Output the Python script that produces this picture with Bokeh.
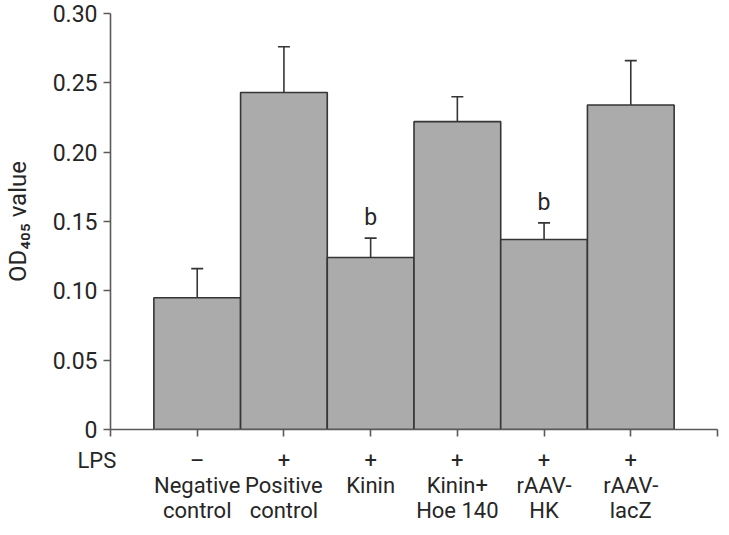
from bokeh.plotting import figure
from bokeh.models import (ColumnDataSource, Whisker, TeeHead, Range1d, FixedTicker,
                          NumeralTickFormatter)
from bokeh.core.properties import value
from bokeh.embed import file_html
from bokeh.resources import INLINE

# ---- data ----
groups = ["Negative\ncontrol", "Positive\ncontrol", "Kinin", "Kinin+\nHoe 140", "rAAV-\nHK", "rAAV-\nlacZ"]
lps = ["–", "+", "+", "+", "+", "+"]
row_title = "LPS"
means = [0.095, 0.243, 0.124, 0.222, 0.137, 0.234]
errors = [0.021, 0.033, 0.014, 0.018, 0.012, 0.032]
sig = ["", "", "b", "", "b", ""]
y_ticks = [0, 0.05, 0.10, 0.15, 0.20, 0.25, 0.30]
y_title = "OD₄₀₅ value"

FONT = "Roboto"
TXT = "#262626"
AX = "#5a5a5a"

xs = list(range(1, len(groups) + 1))
upper = [m + e for m, e in zip(means, errors)]
src = ColumnDataSource(dict(x=xs, top=means, upper=upper, sig=sig))

p = figure(width=719, height=532, output_backend="svg", toolbar_location=None,
           x_range=Range1d(0, len(groups) + 1), y_range=Range1d(0, 0.30),
           min_border_left=105, min_border_right=2, min_border_top=13, min_border_bottom=103)
p.outline_line_color = None
p.xgrid.visible = False
p.ygrid.visible = False

p.vbar(x="x", top="top", width=1.0, source=src, fill_color="#ababab",
       line_color="#353535", line_width=1.6)

w = Whisker(source=src, base="x", lower="top", upper="upper", dimension="height",
            line_color="#353535", line_width=1.6, lower_head=None,
            upper_head=TeeHead(size=12, line_color="#353535", line_width=1.6))
p.add_layout(w)

p.text(x="x", y="upper", text="sig", source=src, text_font=value(FONT),
       text_font_size="23px", text_align="center", text_baseline="bottom",
       y_offset=-7, text_color=TXT)

# axes
for ax in (p.xaxis[0], p.yaxis[0]):
    ax.axis_line_color = AX
    ax.axis_line_width = 1.6
    ax.major_tick_line_color = AX
    ax.major_tick_line_width = 1.6
    ax.major_tick_in = 0
    ax.major_tick_out = 7
    ax.minor_tick_line_color = None
    ax.major_label_text_font = FONT
    ax.major_label_text_color = TXT

p.yaxis.ticker = FixedTicker(ticks=y_ticks)
p.yaxis.formatter = NumeralTickFormatter(format="0.00")
p.yaxis.major_label_overrides = {0: "0"}
p.yaxis.major_label_standoff = 6
p.yaxis.major_label_text_font_size = "23px"
p.yaxis.axis_label = y_title
p.yaxis.axis_label_text_font = FONT
p.yaxis.axis_label_text_font_style = "normal"
p.yaxis.axis_label_text_font_size = "24px"
p.yaxis.axis_label_text_color = TXT
p.yaxis.axis_label_standoff = 18

p.xaxis.ticker = FixedTicker(ticks=list(range(0, len(groups) + 2)))
nb = "\u00a0"
ov = {0: row_title + nb * 5, len(groups) + 1: ""}
for i, (g, l) in enumerate(zip(groups, lps)):
    ov[i + 1] = l + "\n" + g
p.xaxis.major_label_overrides = ov
p.xaxis.major_label_standoff = 11
p.xaxis.major_label_text_font_size = "22px"
p.xaxis.major_label_text_line_height = 1.0

open("out.html", "w").write(file_html(p, INLINE))
